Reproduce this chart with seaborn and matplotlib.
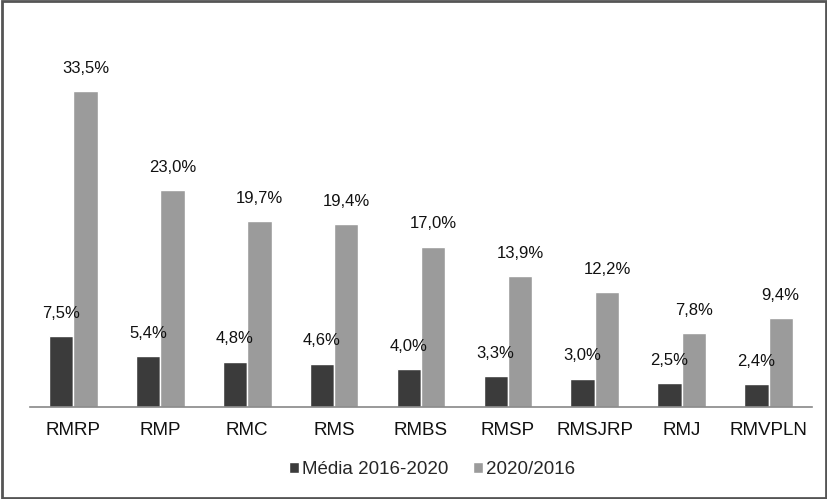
import matplotlib
matplotlib.use("Agg")
import matplotlib.pyplot as plt
import seaborn as sns
import pandas as pd
import numpy as np
from matplotlib.patches import Rectangle

categories = ["RMRP", "RMP", "RMC", "RMS", "RMBS", "RMSP", "RMSJRP", "RMJ", "RMVPLN"]
media_2016_2020 = [7.5, 5.4, 4.8, 4.6, 4.0, 3.3, 3.0, 2.5, 2.4]
var_2020_2016 = [33.5, 23.0, 19.7, 19.4, 17.0, 13.9, 12.2, 7.8, 9.4]
series_names = ["Média 2016-2020", "2020/2016"]

df = pd.DataFrame({
    "cat": categories * 2,
    "val": media_2016_2020 + var_2020_2016,
    "serie": [series_names[0]] * len(categories) + [series_names[1]] * len(categories),
})

sns.set_style("white")
plt.rcParams['font.family'] = ['Liberation Sans', 'DejaVu Sans']

fig = plt.figure(figsize=(8.28, 4.99), dpi=100)
ax = fig.add_axes([30/828, (499-407)/499, 782/828, 377/499])

palette = {series_names[0]: "#3b3b3b", series_names[1]: "#9b9b9b"}
sns.barplot(data=df, x="cat", y="val", hue="serie", palette=palette, ax=ax,
            width=0.56, saturation=1, legend=True, errorbar=None)

for cont, vals in zip(ax.containers, [media_2016_2020, var_2020_2016]):
    ax.bar_label(cont, labels=[f"{v:.1f}".replace(".", ",") + "%" for v in vals],
                 padding=11, fontsize=12, color="#111111")

ax.set_ylim(0, 40)
ax.set_xlim(-0.5, len(categories) - 0.5)
ax.set_xlabel("")
ax.set_ylabel("")
ax.set_yticks([])
for s in ["top", "right", "left"]:
    ax.spines[s].set_visible(False)
ax.spines["bottom"].set_color("#888888")
ax.spines["bottom"].set_linewidth(1.2)
ax.tick_params(axis="x", which="major", length=0, labelsize=13.5, pad=11, colors="#111111")
ax.set_xticks(np.arange(-0.5, len(categories)), minor=True)
ax.tick_params(axis="x", which="minor", length=5, color="#888888", width=1.2)

handles, labels = ax.get_legend_handles_labels()
ax.legend(handles, labels, loc="center", bbox_to_anchor=(0.514, -0.167), ncol=2,
          frameon=False, fontsize=13.5, handlelength=0.55, handleheight=0.55,
          handletextpad=0.15, columnspacing=1.3)

fig.patches.append(Rectangle((0.002, 0.003), 0.996, 0.994, transform=fig.transFigure,
                             fill=False, edgecolor="#555555", linewidth=2))

fig.savefig("out.png", dpi=100)
